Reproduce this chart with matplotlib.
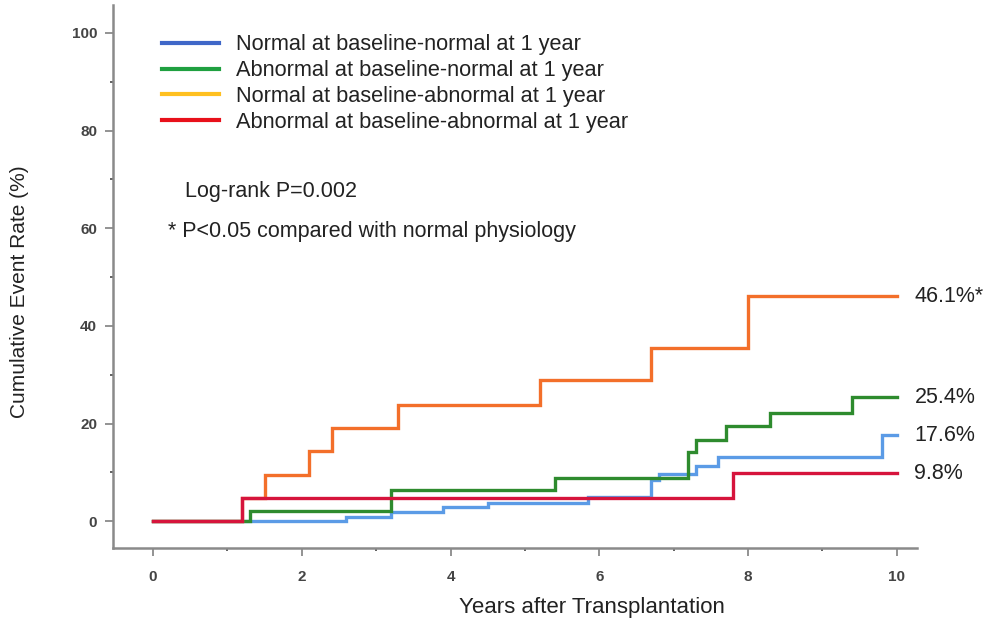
import matplotlib
matplotlib.use("Agg")
import matplotlib.pyplot as plt
from matplotlib.lines import Line2D
from matplotlib.ticker import MultipleLocator

plt.rcParams['font.family'] = ['Liberation Sans', 'DejaVu Sans']

# ---- data ----
blue_t = [0, 2.6, 3.2, 3.9, 4.5, 5.85, 6.7, 6.8, 7.3, 7.6, 9.8, 10.0]
blue_y = [0, 0.9, 1.9, 2.9, 3.8, 4.9, 8.4, 9.6, 11.3, 13.2, 17.6, 17.6]

green_t = [0, 1.3, 3.2, 5.4, 7.2, 7.3, 7.7, 8.3, 9.4, 10.0]
green_y = [0, 2.1, 6.4, 8.8, 14.2, 16.6, 19.5, 22.1, 25.4, 25.4]

orange_t = [0, 1.2, 1.5, 2.1, 2.4, 3.3, 5.2, 6.7, 8.0, 10.0]
orange_y = [0, 4.8, 9.5, 14.3, 19.1, 23.8, 28.9, 35.5, 46.1, 46.1]

red_t = [0, 1.2, 7.8, 10.0]
red_y = [0, 4.7, 9.8, 9.8]

series_labels = ["Normal at baseline-normal at 1 year",
                 "Abnormal at baseline-normal at 1 year",
                 "Normal at baseline-abnormal at 1 year",
                 "Abnormal at baseline-abnormal at 1 year"]
end_labels = ["17.6%", "25.4%", "46.1%*", "9.8%"]

curve_colors = ["#5B9BE6", "#2E8B2E", "#F36F2A", "#D6143C"]
legend_colors = ["#3F67C8", "#1FA040", "#FFC020", "#E8101A"]

fig = plt.figure(figsize=(9.91, 6.19), dpi=100)
ax = fig.add_axes([0.114, 0.1147, 0.811, 0.877])

series = [(blue_t, blue_y), (green_t, green_y), (orange_t, orange_y), (red_t, red_y)]
for (t, y), c in zip(series, curve_colors):
    ax.step(t, y, where='post', color=c, lw=2.4, solid_joinstyle='miter')

for (t, y), lab in zip(series, end_labels):
    ax.text(t[-1] + 0.24, y[-1], lab, fontsize=15.5, color="#222222",
            va='center', ha='left')

ax.set_xlim(-0.54, 10.27)
ax.set_ylim(-5.5, 105.7)

ax.xaxis.set_minor_locator(MultipleLocator(1))
ax.yaxis.set_minor_locator(MultipleLocator(10))
ax.set_xticks(range(0, 11, 2))
ax.set_yticks(range(0, 101, 20))

for s in ['top', 'right']:
    ax.spines[s].set_visible(False)
for s in ['left', 'bottom']:
    ax.spines[s].set_color('#8a8a8a')
    ax.spines[s].set_linewidth(1.8)

ax.tick_params(which='both', direction='out', color='#8a8a8a', width=1.3)
ax.tick_params(which='major', length=5.5, pad=6, labelsize=11, labelcolor='#444444')
ax.tick_params(which='minor', length=2.5, color='#555555')
for lab in ax.get_xticklabels() + ax.get_yticklabels():
    lab.set_fontweight('bold')
ax.tick_params(axis='x', which='major', pad=10)

ax.set_xlabel("Years after Transplantation", fontsize=16, color="#222222")
ax.xaxis.set_label_coords(0.596, -0.09)
ax.set_ylabel("Cumulative Event Rate (%)", fontsize=15, color="#222222")
ax.yaxis.set_label_coords(-0.104, 0.473)

handles = [Line2D([0], [0], color=c, lw=3) for c in legend_colors]
leg = ax.legend(handles, series_labels, loc='upper left',
                bbox_to_anchor=(0.05, 0.962), frameon=False, fontsize=15.7,
                handlelength=2.6, handletextpad=0.8, labelspacing=0.22,
                borderaxespad=0)
for t in leg.get_texts():
    t.set_color("#222222")

ax.text(0.43, 67.5, "Log-rank P=0.002", fontsize=15.5, color="#222222", va='center')
ax.text(0.2, 59.3, "* P<0.05 compared with normal physiology", fontsize=15.5,
        color="#222222", va='center')

fig.savefig("out.png", dpi=100)
